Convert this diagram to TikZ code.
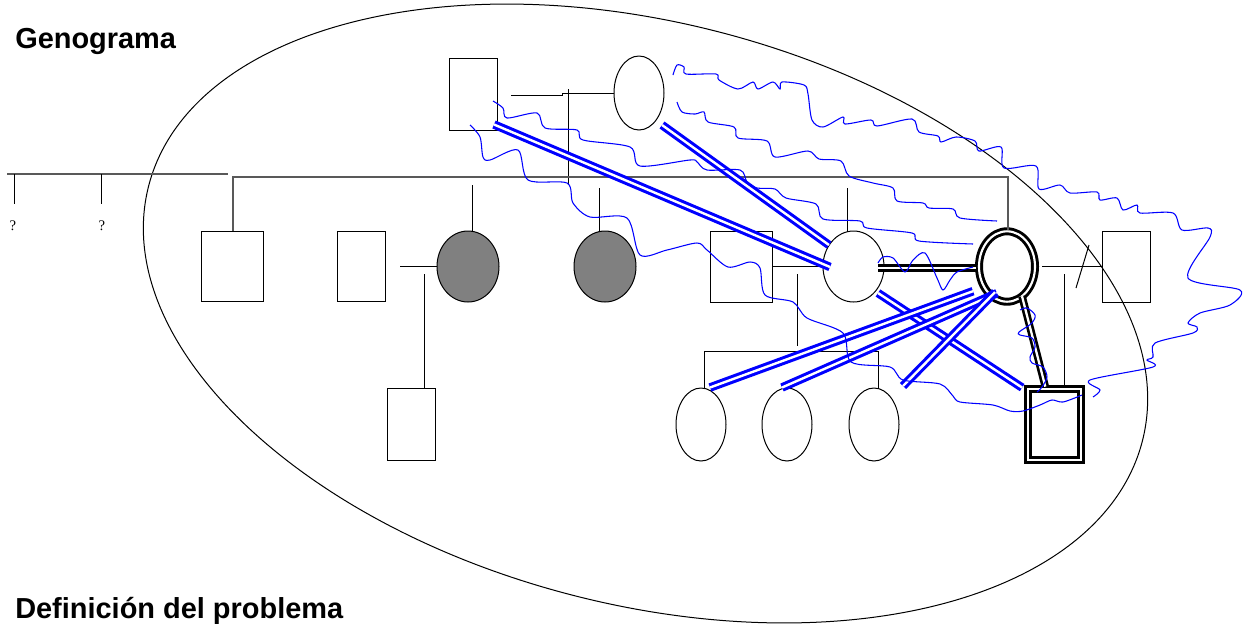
\documentclass[tikz,border=0pt]{standalone}
\usepackage{fontspec}
\setmainfont{Liberation Serif}
\newfontfamily\headfont{Liberation Sans}
\usetikzlibrary{shapes.geometric,calc}

\tikzset{
  person/.style={draw, inner sep=0pt, line width=0.75pt},
  man/.style={person, rectangle, minimum width=36pt, minimum height=53.25pt},
  woman/.style={person, ellipse, minimum width=46.5pt, minimum height=53.25pt},
  ill/.style={woman, fill=black!50},
  index/.style={woman, double=white, line width=2.2pt, double distance=1.6pt},
  patient/.style={man, double=white, line width=2.2pt, double distance=1.6pt},
  kin/.style={line width=0.75pt},
  sibline/.style={draw=black!65, line width=1pt},
  bond/.style={draw=blue, double=white, line width=2.3pt, double distance=1.8pt},
  tie/.style={draw=black, double=white, line width=2pt, double distance=1.7pt},
  scribble/.style={draw=blue, line width=0.8pt},
  qmark/.style={inner sep=0pt, font=\fontsize{11}{13}\selectfont},
  heading/.style={anchor=base west, inner sep=0pt, font=\headfont\bfseries\fontsize{21.7}{26}\selectfont}
}

\begin{document}
\begin{tikzpicture}[x=0.75pt,y=0.75pt,yscale=-1,xscale=1]
\useasboundingbox (0,0) rectangle (1243,626);

%Shape: Ellipse round the family
\draw [line width=0.75pt, shift={(645.5,313.5)}, rotate=14.4] (0,0) ellipse (513 and 291);

% Text Node
\node [heading] (genograma) at (15,48) {Genograma};
% Text Node
\node [heading] (problema) at (15,618) {Definición del problema};

%Shape: grandparents
\node [man, minimum height=54pt] (abuelo) at (473,94) {};
\node [woman, minimum width=37.5pt, minimum height=55.5pt] (abuela) at (639,93) {};

%Shape: second generation
\node [man, minimum width=46.5pt, minimum height=52.5pt] (tioA) at (232,266) {};
\node [man, minimum height=52.5pt] (tioB) at (361,266) {};
\node [ill] (tiaA) at (468,266.5) {};
\node [ill] (tiaB) at (605,266.5) {};
\node [man, minimum width=46.5pt] (tioC) at (741,266.5) {};
\node [woman, minimum width=45.75pt] (tiaC) at (853.5,266.5) {};
\node [index, minimum width=42pt, minimum height=52.8pt] (madre) at (1007,266.5) {};
\node [man] (padre) at (1126,266.5) {};

%Shape: third generation
\node [man, minimum height=54pt] (primo) at (411,424) {};
\node [woman, minimum width=37.5pt, minimum height=54.75pt] (primaA) at (701,424.5) {};
\node [woman, minimum width=37.5pt, minimum height=54.75pt] (primaB) at (787,424.5) {};
\node [woman, minimum width=37.5pt, minimum height=54.75pt] (primaC) at (874,424.5) {};
\node [patient, minimum width=40pt, minimum height=53.1pt] (hijo) at (1054.3,424.5) {};

% Text Node
\node [qmark] (q1) at (13,226) {?};
% Text Node
\node [qmark] (q2) at (102,226) {?};

%Straight Lines: unknown siblings
\coordinate (gl) at (7,174);
\coordinate (gr) at (228,174);
\draw [sibline] (gl) -- (gr);
\draw [kin] (gl -| 14,0) -- ++(0,30);
\draw [kin] (gl -| 101,0) -- ++(0,30);

%Straight Lines: grandparents and their children
\coordinate (sl) at (233,177);
\coordinate (sr) at (1008,177);
\coordinate (bajada) at (568,89);
\draw [kin] (abuelo.east) ++(13.5,1) -- ++(51,0) -- ++(0,-2) -- (abuela.west);
\draw [kin] (bajada) -- ++(0,96);
\draw [sibline] (sl |- tioA.north) -- (sl) -- (sr) -- (sr |- madre.north);
\draw [kin] (tiaA.north) ++(4,0) -- ++(0,-45.5);
\draw [kin] (tiaB.north) ++(-6,0) -- ++(0,-42.5);
\draw [kin] (tiaC.north) ++(-6.5,0) -- ++(0,-42.5);

%Straight Lines: couples and children
\draw [kin] (tiaA.west) -- ++(-36.5,0);
\draw [kin] (primo.north) ++(13,0) -- ++(0,-113.5);
\draw [kin] (tioC.east) -- (tiaC.west);
\coordinate (hijos) at (797,274);
\draw [kin] (hijos) -- ++(0,72);
\draw [kin] (primaA.north) ++(3,0) -- ++(0,-36.5) -- ++(174,0) -- ++(0,36.5);
\draw [kin] (padre.west) -- ++(-59.5,0);
\draw [kin] (padre.west) ++(-12.5,-21.5) -- ++(-13,43);
\draw [kin] (hijo.north) ++(9.7,0) -- ++(0,-113.6);

%Straight Lines: close bonds
\draw [tie] ($(tiaC.east)+(-6.5,1.5)$) -- ($(madre.west)+(-2,1.5)$);
\draw [tie] ($(madre.south)+(15,-7)$) -- ($(hijo.north)+(-9,-1)$);
\draw [bond] ($(abuelo.south east)+(-3.5,-6)$) -- ($(tiaC.west)+(7.5,0.5)$);
\draw [bond] ($(abuela.south)+(23,-5.5)$) -- ($(tiaC.north)+(-24.5,14.5)$);
\draw [bond] ($(tiaC.south)+(24.5,-9.5)$) -- ($(hijo.north west)+(-4,0)$);
\draw [bond] ($(madre.south)+(-34,-12)$) -- ($(primaA.north)+(9,0)$);
\draw [bond] ($(madre.south)+(-10,-10)$) -- ($(primaB.north)+(-5,0)$);
\draw [bond] ($(madre.south)+(-12,-11)$) -- ($(primaC.north)+(29,-1.5)$);

%Curve Lines
\draw [scribble] plot [smooth, tension=0.5] coordinates {(673,75) (677,65) (684,67) (686,74) (716,74) (719,80) (738,89) (753,82) (758,89) (773,82) (780,89) (782,82) (804,85) (808,94) (812,120) (823,127) (843,117) (845,124) (871,120) (877,126) (912,119) (919,132) (938,136) (941,142) (956,137) (975,141) (979,151) (1001,147) (1004,168) (1036,166) (1039,189) (1060,185) (1070,193) (1097,192) (1100,200) (1117,198) (1123,210) (1137,205) (1140,213) (1173,213) (1182,230) (1208,228) (1210,237) (1188,278) (1240,290) (1230,305) (1200,313) (1188,323) (1197,327) (1193,333) (1155,343) (1153,357) (1147,360) (1153,367) (1090,380) (1100,390) (1093,397)};
%Curve Lines
\draw [scribble] plot [smooth, tension=0.5] coordinates {(677,102) (682,112) (695,114) (704,112) (708,122) (734,127) (738,138) (767,141) (775,157) (808,151) (819,159) (841,161) (849,176) (873,183) (893,188) (897,201) (923,203) (929,208) (953,209) (960,218) (997,221)};
%Curve Lines
\draw [scribble] plot [smooth, tension=0.5] coordinates {(493,101) (503,108) (507,118) (537,113) (545,128) (577,130) (583,140) (630,147) (640,166) (690,160) (697,162) (707,170) (740,170) (747,182) (757,188) (775,189) (786,198) (816,204) (823,219) (860,221) (867,228) (912,233) (919,241) (973,244)};
%Curve Lines
\draw [scribble] plot [smooth, tension=0.5] coordinates {(470,125) (480,137) (483,157) (490,160) (518,150) (528,180) (567,183) (573,203) (590,217) (627,218) (640,255) (667,250) (697,243) (707,250) (728,267) (750,262) (760,268) (765,295) (793,302) (807,318) (843,333) (851,362) (890,367) (903,380) (940,384) (953,396) (960,402) (993,405) (1010,411) (1023,411) (1040,405) (1052,400) (1063,402) (1082,395)};
%Curve Lines
\draw [scribble] plot [smooth, tension=0.5] coordinates {(878,263) (883,257) (893,258) (905,272) (913,260) (925,253) (937,278) (943,290) (950,280) (957,272) (973,267)};
%Curve Lines
\draw [scribble] plot [smooth, tension=0.5] coordinates {(1020,310) (1027,308) (1035,315) (1032,323) (1019,332) (1020,335) (1032,338) (1035,347) (1030,357) (1032,363) (1043,367) (1047,377) (1042,387) (1037,392)};

\end{tikzpicture}
\end{document}
